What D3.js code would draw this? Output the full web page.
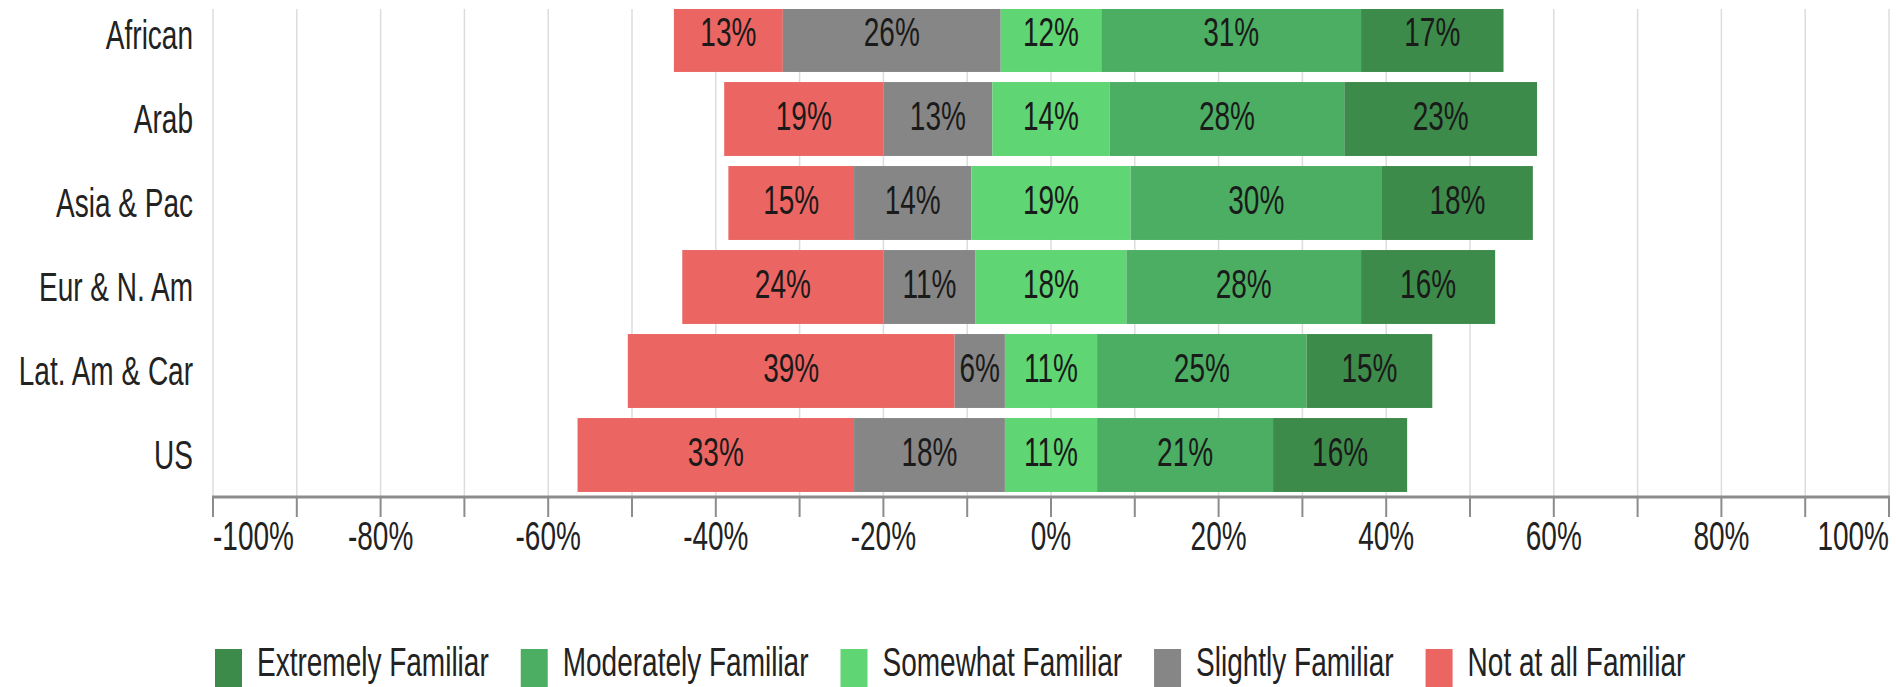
<!DOCTYPE html>
<html>
<head>
<meta charset="utf-8">
<script src="https://cdn.jsdelivr.net/npm/d3@7/dist/d3.min.js"></script>
<style>
  html, body { margin: 0; padding: 0; background: #fff; }
  svg { display: block; }
  text { font-family: "Liberation Sans", Arial, Helvetica, sans-serif; fill: #222; }
</style>
</head>
<body>
<svg id="chart" width="1896" height="687"></svg>
<script>
// Familiarity by region (percent of respondents)
const categories = ["African", "Arab", "Asia & Pac", "Eur & N. Am", "Lat. Am & Car", "US"];
const notAtAll   = [13, 19, 15, 24, 39, 33];
const slightly   = [26, 13, 14, 11,  6, 18];
const somewhat   = [12, 14, 19, 18, 11, 11];
const moderately = [31, 28, 30, 28, 25, 21];
const extremely  = [17, 23, 18, 16, 15, 16];

// Stack order from left to right; "Somewhat" straddles zero
const seriesNames  = ["Not at all Familiar", "Slightly Familiar", "Somewhat Familiar", "Moderately Familiar", "Extremely Familiar"];
const seriesValues = [notAtAll, slightly, somewhat, moderately, extremely];
const seriesColors = ["#eb6663", "#868686", "#60d574", "#4cae63", "#3d8b4a"];

// Legend reads from the most to the least familiar
const legendOrder = ["Extremely Familiar", "Moderately Familiar", "Somewhat Familiar", "Slightly Familiar", "Not at all Familiar"];

const gridValues  = [-100, -90, -80, -70, -60, -50, -40, -30, -20, -10, 0, 10, 20, 30, 40, 50, 60, 70, 80, 90, 100];
const tickValues  = [-100, -80, -60, -40, -20, 0, 20, 40, 60, 80, 100];
const tickLabels  = ["-100%", "-80%", "-60%", "-40%", "-20%", "0%", "20%", "40%", "60%", "80%", "100%"];

const svg = d3.select("#chart");
const FONT = 28;
const STRETCH = 1.42;   // tall, narrow lettering
const plotTop = 9, axisY = 497;

const x = d3.scaleLinear().domain([-100, 100]).range([213, 1889]);
const y = d3.scaleBand().domain(categories).range([-7, axisY]).paddingInner(0.12).paddingOuter(0.06);

function stretchedText(sel, tx, ty) {
  return sel.attr("transform", (d, i) => `translate(${tx(d, i)},${ty(d, i)}) scale(1,${STRETCH})`);
}

svg.append("defs").append("clipPath").attr("id", "plotClip")
  .append("rect").attr("x", 0).attr("y", plotTop).attr("width", 1896).attr("height", axisY - plotTop);

// vertical gridlines
svg.append("g").selectAll("line").data(gridValues).join("line")
  .attr("x1", d => x(d)).attr("x2", d => x(d))
  .attr("y1", plotTop).attr("y2", axisY)
  .attr("stroke", "#dcdcdc").attr("stroke-width", 1.5);

// build stacked segments
const segments = [];
categories.forEach((cat, ci) => {
  let start = -(notAtAll[ci] + slightly[ci] + somewhat[ci] / 2);
  seriesValues.forEach((vals, si) => {
    const v = vals[ci];
    segments.push({ cat, series: seriesNames[si], color: seriesColors[si], value: v, x0: start, x1: start + v });
    start += v;
  });
});

const plot = svg.append("g").attr("clip-path", "url(#plotClip)");

plot.selectAll("rect").data(segments).join("rect")
  .attr("x", d => x(d.x0))
  .attr("width", d => x(d.x1) - x(d.x0))
  .attr("y", d => y(d.cat))
  .attr("height", y.bandwidth())
  .attr("fill", d => d.color);

stretchedText(
  plot.selectAll("text").data(segments).join("text")
    .attr("text-anchor", "middle")
    .attr("dy", "0.33em")
    .style("font-size", FONT + "px")
    .style("fill", "#1a1a1a")
    .text(d => d.value + "%"),
  d => (x(d.x0) + x(d.x1)) / 2,
  d => y(d.cat) + y.bandwidth() / 2 - 2
);

// category labels
stretchedText(
  svg.append("g").selectAll("text").data(categories).join("text")
    .attr("text-anchor", "end")
    .attr("dy", "0.35em")
    .style("font-size", FONT + "px")
    .text(d => d),
  () => 193,
  d => y(d) + y.bandwidth() / 2
);

// x axis
const axis = svg.append("g");
axis.append("line")
  .attr("x1", x(-100) - 1).attr("x2", x(100) + 1)
  .attr("y1", axisY).attr("y2", axisY)
  .attr("stroke", "#8c8c8c").attr("stroke-width", 3);
axis.selectAll("line.tick").data(gridValues).join("line").attr("class", "tick")
  .attr("x1", d => x(d)).attr("x2", d => x(d))
  .attr("y1", axisY).attr("y2", axisY + 20)
  .attr("stroke", "#8c8c8c").attr("stroke-width", 2);
stretchedText(
  axis.selectAll("text").data(tickValues).join("text")
    .attr("text-anchor", (d, i) => i === 0 ? "start" : (i === tickValues.length - 1 ? "end" : "middle"))
    .attr("dy", "0.35em")
    .style("font-size", FONT + "px")
    .text((d, i) => tickLabels[i]),
  d => x(d),
  () => 536
);

// legend
const legend = svg.append("g");
let lx = 215;
legendOrder.forEach(name => {
  const color = seriesColors[seriesNames.indexOf(name)];
  legend.append("rect").attr("x", lx).attr("y", 649).attr("width", 27).attr("height", 38).attr("fill", color);
  const t = legend.append("text")
    .attr("transform", `translate(${lx + 42},${676}) scale(1,${STRETCH})`)
    .style("font-size", FONT + "px")
    .text(name);
  lx += 42 + t.node().getComputedTextLength() + 32;
});
</script>
</body>
</html>
